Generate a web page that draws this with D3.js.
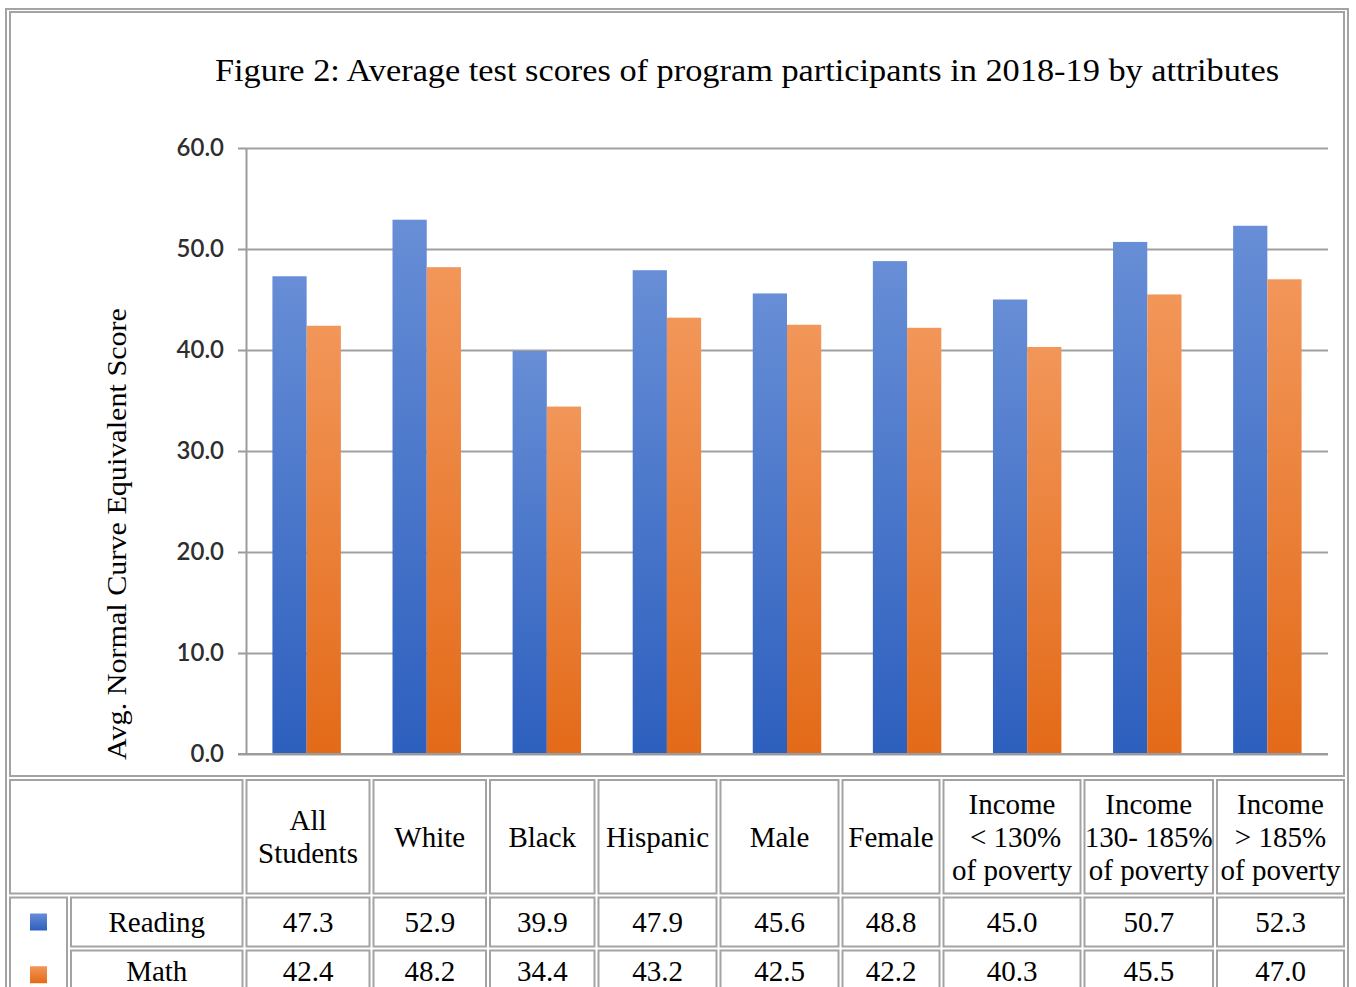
<!DOCTYPE html>
<html>
<head>
<meta charset="utf-8">
<script src="https://cdn.jsdelivr.net/npm/d3@7"></script>
<style>
  html, body { margin: 0; padding: 0; background: #fff; }
  svg { display: block; }
</style>
</head>
<body>
<div id="chart"></div>
<script>
// chart values
const categories = ['All Students', 'White', 'Black', 'Hispanic', 'Male', 'Female',
  'Income < 130% of poverty', 'Income 130- 185% of poverty', 'Income > 185% of poverty'];
const headerLines = [['All', 'Students'], ['White'], ['Black'], ['Hispanic'], ['Male'], ['Female'],
  ['Income', '\u00a0< 130%', 'of poverty'], ['Income', '130- 185%', 'of poverty'], ['Income', '> 185%', 'of poverty']];
const seriesNames = ['Reading', 'Math'];
const reading = [47.3, 52.9, 39.9, 47.9, 45.6, 48.8, 45.0, 50.7, 52.3];
const math = [42.4, 48.2, 34.4, 43.2, 42.5, 42.2, 40.3, 45.5, 47.0];
const yTicks = [0, 10, 20, 30, 40, 50, 60];
const title = 'Figure 2: Average test scores of program participants in 2018-19 by attributes';
const yTitle = 'Avg. Normal Curve Equivalent Score';

const W = 1356;
const H = 987;
const plot = {left: 246, right: 1328, top: 148, bottom: 754};
const serif = '"Liberation Serif", "DejaVu Serif", serif';
const borderColor = '#a3a3a3';

const svg = d3.select('#chart').append('svg')
    .attr('width', W)
    .attr('height', H);

svg.append('rect').attr('width', W).attr('height', H).attr('fill', '#fff');

// gradients for bars (lighter at top)
const defs = svg.append('defs');
const grads = [
  {id: 'gBlue', top: '#678ed6', bottom: '#2d5fbe'},
  {id: 'gOrange', top: '#f29659', bottom: '#e36a18'},
];
grads.forEach((g) => {
  const lg = defs.append('linearGradient')
      .attr('id', g.id)
      .attr('x1', 0).attr('y1', 0).attr('x2', 0).attr('y2', 1);
  lg.append('stop').attr('offset', '0%').attr('stop-color', g.top);
  lg.append('stop').attr('offset', '100%').attr('stop-color', g.bottom);
});
const fills = {Reading: 'url(#gBlue)', Math: 'url(#gOrange)'};

// ---- outer frame and table cells ----
const colB = [8, 244.5, 371.5, 488, 596.5, 718.5, 840.5, 941.5, 1082.5, 1215, 1346];
const rowB = [10, 778, 895.5, 948.5, 1001];

svg.append('rect')
    .attr('x', 6).attr('y', 9)
    .attr('width', 1342).attr('height', 1000)
    .attr('fill', 'none')
    .attr('stroke', borderColor)
    .attr('stroke-width', 2);

const cell = (x0, x1, y0, y1) => {
  svg.append('rect')
      .attr('x', x0 + 2).attr('y', y0 + 2)
      .attr('width', x1 - x0 - 4).attr('height', y1 - y0 - 4)
      .attr('fill', 'none')
      .attr('stroke', borderColor)
      .attr('stroke-width', 2);
};

// chart cell
cell(colB[0], colB[colB.length - 1], rowB[0], rowB[1]);
// header row
for (let i = 0; i < colB.length - 1; i++) cell(colB[i], colB[i + 1], rowB[1], rowB[2]);
// legend cell (spans both rows)
const legendSplit = 69;
cell(colB[0], legendSplit, rowB[2], rowB[4]);
for (let r = 2; r < 4; r++) {
  cell(legendSplit, colB[1], rowB[r], rowB[r + 1]);
  for (let i = 1; i < colB.length - 1; i++) cell(colB[i], colB[i + 1], rowB[r], rowB[r + 1]);
}

// ---- chart ----
const y = d3.scaleLinear().domain([0, 60]).range([plot.bottom, plot.top]);
const x = d3.scaleBand()
    .domain(categories)
    .range([plot.left, plot.right])
    .paddingInner(0.43)
    .paddingOuter(0.22);
const x1 = d3.scaleBand().domain(seriesNames).range([0, x.bandwidth()]);

const yAxis = svg.append('g')
    .attr('transform', `translate(${plot.left},0)`)
    .call(d3.axisLeft(y)
        .tickValues(yTicks)
        .tickSize(8)
        .tickSizeOuter(0)
        .tickPadding(14)
        .tickFormat(d3.format('.1f')));

yAxis.select('.domain').attr('stroke', '#9b9b9b').attr('stroke-width', 2);
yAxis.selectAll('.tick line').attr('stroke', '#9b9b9b').attr('stroke-width', 2);
yAxis.selectAll('.tick').append('line')
    .attr('x1', 0)
    .attr('x2', plot.right - plot.left)
    .attr('stroke', '#a0a0a0')
    .attr('stroke-width', 2);
yAxis.selectAll('.tick text')
    .attr('font-family', 'Lato, "Open Sans", sans-serif')
    .attr('font-size', 24)
    .attr('font-weight', 600)
    .attr('fill', '#2e2e2e');

const rows = categories.map((c, i) => ({cat: c, Reading: reading[i], Math: math[i]}));

svg.append('g')
    .selectAll('g')
    .data(rows)
    .join('g')
    .attr('transform', (d) => `translate(${x(d.cat)},0)`)
    .selectAll('rect')
    .data((d) => seriesNames.map((s) => ({key: s, value: d[s]})))
    .join('rect')
    .attr('x', (d) => x1(d.key))
    .attr('y', (d) => y(d.value))
    .attr('width', x1.bandwidth())
    .attr('height', (d) => y(0) - y(d.value))
    .attr('fill', (d) => fills[d.key]);

// redraw the baseline above the bars
svg.append('line')
    .attr('x1', plot.left - 8).attr('x2', plot.right)
    .attr('y1', y(0)).attr('y2', y(0))
    .attr('stroke', '#9b9b9b')
    .attr('stroke-width', 2);

svg.append('text')
    .attr('x', 747)
    .attr('y', 81)
    .attr('text-anchor', 'middle')
    .attr('font-family', serif)
    .attr('font-size', 31)
    .attr('textLength', 1064)
    .attr('lengthAdjust', 'spacingAndGlyphs')
    .text(title);

svg.append('text')
    .attr('transform', 'translate(126,534) rotate(-90)')
    .attr('text-anchor', 'middle')
    .attr('font-family', serif)
    .attr('font-size', 28)
    .attr('textLength', 452)
    .attr('lengthAdjust', 'spacingAndGlyphs')
    .text(yTitle);

// ---- table text ----
const tfont = 29;
const lineH = 33;
const headMid = (rowB[1] + rowB[2]) / 2;
headerLines.forEach((lines, i) => {
  const cx = (colB[i + 1] + colB[i + 2]) / 2;
  const t = svg.append('text')
      .attr('text-anchor', 'middle')
      .attr('font-family', serif)
      .attr('font-size', tfont)
      .attr('fill', '#000');
  const start = headMid - (lines.length - 1) * lineH / 2;
  lines.forEach((ln, j) => {
    t.append('tspan')
        .attr('x', cx)
        .attr('y', start + j * lineH)
        .attr('dy', '0.35em')
        .text(ln);
  });
});

const series = [reading, math];
const legendFills = ['url(#gBlue)', 'url(#gOrange)'];
const textShift = [0, -4];
seriesNames.forEach((s, r) => {
  const cy = (rowB[r + 2] + rowB[r + 3]) / 2;
  svg.append('rect')
      .attr('x', (colB[0] + legendSplit) / 2 - 8.5)
      .attr('y', cy - 8.5)
      .attr('width', 17)
      .attr('height', 17)
      .attr('fill', legendFills[r]);
  svg.append('text')
      .attr('x', (legendSplit + colB[1]) / 2)
      .attr('y', cy + textShift[r])
      .attr('dy', '0.35em')
      .attr('text-anchor', 'middle')
      .attr('font-family', serif)
      .attr('font-size', tfont)
      .text(s);
  series[r].forEach((v, i) => {
    svg.append('text')
        .attr('x', (colB[i + 1] + colB[i + 2]) / 2)
        .attr('y', cy + textShift[r])
        .attr('dy', '0.35em')
        .attr('text-anchor', 'middle')
        .attr('font-family', serif)
        .attr('font-size', tfont)
        .text(v.toFixed(1));
  });
});
</script>
</body>
</html>
